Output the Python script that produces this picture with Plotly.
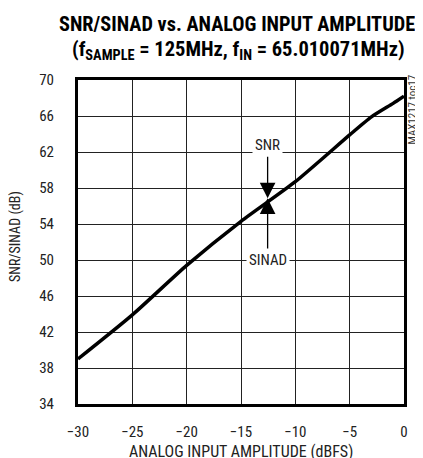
import plotly.graph_objects as go

amplitude = [-30, -25, -20, -15, -10, -5, -3, -1, 0]
snr_sinad = [39.0, 43.9, 49.4, 54.3, 58.7, 63.9, 65.9, 67.4, 68.2]

x_ticks = [-30, -25, -20, -15, -10, -5, 0]
y_ticks = [34, 38, 42, 46, 50, 54, 58, 62, 66, 70]

arrow_x = -12.55
arrow_y = 56.85

FONT = "Liberation Sans Narrow, Arial Narrow, Roboto Condensed, Liberation Sans, sans-serif"

# The page body has an 8px margin, so the figure is drawn 8px in and 8px down.
# Helpers map page pixels to paper coordinates (plot area: page x 78..404, y 80..404).
def py(p):
    return (404 - p) / 324.0

def px(p):
    return (p - 78) / 326.0

fig = go.Figure()
fig.add_trace(go.Scatter(x=amplitude, y=snr_sinad, mode="lines",
                         line=dict(color="black", width=3.5, shape="spline", smoothing=0.6),
                         showlegend=False, hoverinfo="skip"))

fig.update_layout(
    width=415, height=450,
    margin=dict(l=70, r=19, t=72, b=54),
    paper_bgcolor="white", plot_bgcolor="white",
    xaxis=dict(range=[-30, 0], tickvals=x_ticks, showgrid=True, gridcolor="#222", gridwidth=1,
               zeroline=False, showline=True, linecolor="black", linewidth=3, mirror=True,
               ticks="", ticklabelstandoff=12,
               tickfont=dict(family=FONT, size=15, color="#222")),
    yaxis=dict(range=[34, 70], tickvals=y_ticks, showgrid=True, gridcolor="#222", gridwidth=1,
               zeroline=False, showline=True, linecolor="black", linewidth=3, mirror=True,
               ticks="", ticklabelstandoff=18,
               tickfont=dict(family=FONT, size=15, color="#222")),
)

# title lines
fig.add_annotation(x=px(236.5), y=py(24), xref="paper", yref="paper", showarrow=False,
                   text="<b>SNR/SINAD vs. ANALOG INPUT AMPLITUDE</b>",
                   xanchor="center", yanchor="middle",
                   font=dict(family=FONT, size=20.3, color="black"))
fig.add_annotation(x=px(238), y=py(50), xref="paper", yref="paper", showarrow=False,
                   text="<b>(f<sub>SAMPLE</sub> = 125MHz, f<sub>IN</sub> = 65.010071MHz)</b>",
                   xanchor="center", yanchor="middle",
                   font=dict(family=FONT, size=20.5, color="black"))

# axis titles
fig.add_annotation(x=px(241), y=py(440), xref="paper", yref="paper", showarrow=False,
                   text="ANALOG INPUT AMPLITUDE (dBFS)", xanchor="center", yanchor="top",
                   font=dict(family=FONT, size=16, color="#222"))
fig.add_annotation(x=px(15), y=py(237), xref="paper", yref="paper", showarrow=False,
                   text="SNR/SINAD (dB)", textangle=-90, xanchor="center", yanchor="middle",
                   font=dict(family=FONT, size=14, color="#222"))

fig.add_annotation(x=arrow_x, y=arrow_y, ax=arrow_x, ay=62.75, axref="x", ayref="y",
                   xref="x", yref="y", text="SNR", showarrow=True,
                   arrowhead=2, arrowsize=2.4, arrowwidth=1.3, arrowcolor="black",
                   bgcolor="white", borderpad=2,
                   font=dict(family=FONT, size=15, color="#222"))
fig.add_annotation(x=arrow_x, y=arrow_y, ax=arrow_x, ay=50.0, axref="x", ayref="y",
                   xref="x", yref="y", text="SINAD", showarrow=True,
                   arrowhead=2, arrowsize=2.4, arrowwidth=1.3, arrowcolor="black",
                   bgcolor="white", borderpad=2,
                   font=dict(family=FONT, size=15, color="#222"))
fig.add_annotation(x=px(412.5), y=py(110), xref="paper", yref="paper", text="MAX1217 toc17",
                   showarrow=False, textangle=-90, xanchor="center", yanchor="middle",
                   font=dict(family=FONT, size=11, color="#333"))

fig.write_html("out.html")
